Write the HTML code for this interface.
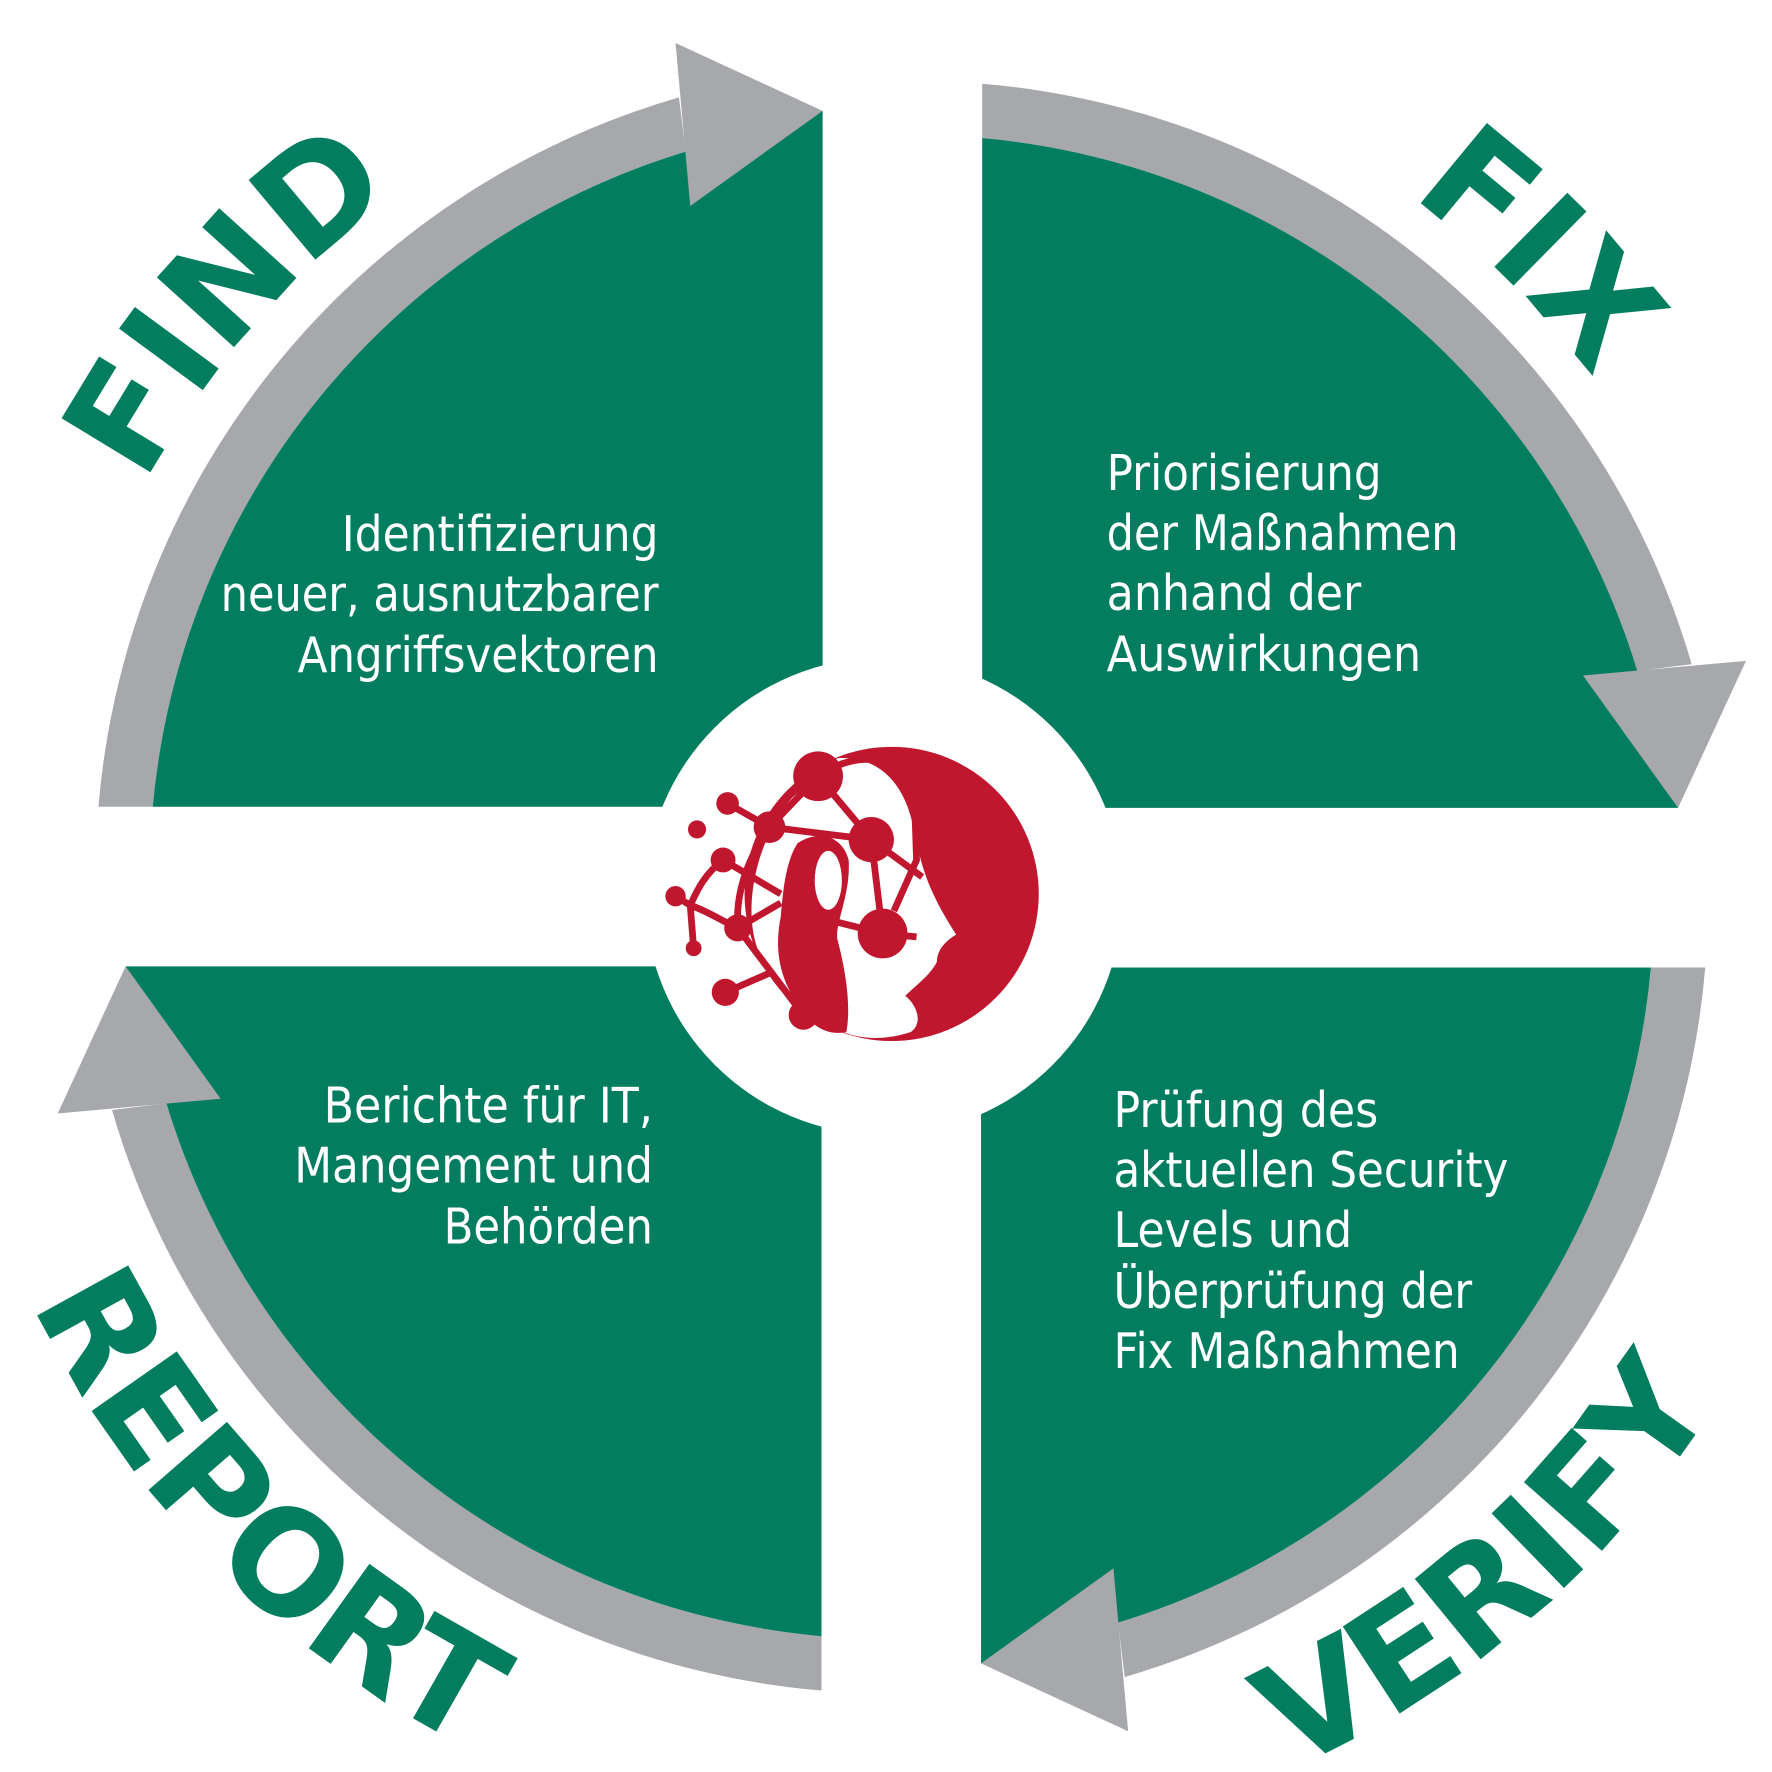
<!DOCTYPE html>
<html><head><meta charset="utf-8"><style>html,body{margin:0;padding:0;background:#fff}svg{display:block}</style></head>
<body>
<svg width="1772" height="1772" viewBox="0 0 1566 1566" xmlns="http://www.w3.org/2000/svg">
<defs>
<g id="q">
<path d="M87,713 A715,715 0 0 1 600,86 L606,134 A668,668 0 0 0 135,713 Z" fill="#a7a8ab"/>
<path d="M135,713 A668,668 0 0 1 606,134 L727,98 L727,713 Z" fill="#037d5f"/>
<path d="M597,38 L727,98 L610,182 Z" fill="#a7a8ab"/>
</g>
<path id="pFind" d="M80.3,1030.8 A758,758 0 0 1 941.6,40.0"/>
<path id="pFix" d="M600.8,51.8 A758,758 0 0 1 1529.2,980.2"/>
<path id="pRep" d="M-23.6,554.9 A852,852 0 0 0 1008.9,1609.3"/>
<path id="pVer" d="M515.4,1588.1 A852,852 0 0 0 1634.2,625.8"/>
</defs>
<use href="#q"/>
<use href="#q" transform="rotate(90 797 784)"/>
<use href="#q" transform="rotate(180 797 784)"/>
<use href="#q" transform="rotate(270 797 784)"/>
<circle cx="781" cy="792" r="211" fill="#fff"/>

<g font-family="'DejaVu Sans','Liberation Sans',sans-serif" font-weight="bold" font-size="126" fill="#037d5f" text-anchor="middle">
<text><textPath href="#pFind" startOffset="50%">FIND</textPath></text>
<text><textPath href="#pFix" startOffset="50%">FIX</textPath></text>
<text><textPath href="#pRep" startOffset="50%">REPORT</textPath></text>
<text><textPath href="#pVer" startOffset="50%">VERIFY</textPath></text>
</g>

<g font-family="'DejaVu Sans','Liberation Sans',sans-serif" font-size="43" fill="#fff">
<g text-anchor="end">
<text x="582" y="487" textLength="280" lengthAdjust="spacingAndGlyphs">Identifizierung</text>
<text x="582" y="540" textLength="387" lengthAdjust="spacingAndGlyphs">neuer, ausnutzbarer</text>
<text x="582" y="594" textLength="319" lengthAdjust="spacingAndGlyphs">Angriffsvektoren</text>
<text x="577" y="992" textLength="291" lengthAdjust="spacingAndGlyphs">Berichte für IT,</text>
<text x="577" y="1045" textLength="317" lengthAdjust="spacingAndGlyphs">Mangement und</text>
<text x="577" y="1099" textLength="185" lengthAdjust="spacingAndGlyphs">Behörden</text>
</g>
<text x="978" y="433" textLength="243" lengthAdjust="spacingAndGlyphs">Priorisierung</text>
<text x="978" y="486" textLength="311" lengthAdjust="spacingAndGlyphs">der Maßnahmen</text>
<text x="978" y="539" textLength="225" lengthAdjust="spacingAndGlyphs">anhand der</text>
<text x="978" y="593" textLength="278" lengthAdjust="spacingAndGlyphs">Auswirkungen</text>
<text x="984" y="996" textLength="234" lengthAdjust="spacingAndGlyphs">Prüfung des</text>
<text x="984" y="1049" textLength="349" lengthAdjust="spacingAndGlyphs">aktuellen Security</text>
<text x="984" y="1102" textLength="211" lengthAdjust="spacingAndGlyphs">Levels und</text>
<text x="984" y="1156" textLength="317" lengthAdjust="spacingAndGlyphs">Überprüfung der</text>
<text x="984" y="1209" textLength="306" lengthAdjust="spacingAndGlyphs">Fix Maßnahmen</text>
</g>

<g fill="#c0172f">
<circle cx="788" cy="790" r="130"/>
<path d="M740,670 C775,668 800,690 808,735 C815,770 822,790 845,826 C835,832 828,840 828,850 C822,862 808,872 800,880 C812,890 815,905 805,912 C780,920 760,918 745,912 C720,905 690,880 670,840 C655,800 670,740 700,705 Z" fill="#fff"/>
<path d="M705,745 C725,732 745,740 750,760 C752,790 738,815 740,830 C748,860 752,890 748,912 C735,915 722,910 712,898 C695,875 682,850 690,810 C692,785 695,760 705,745 Z"/>
<ellipse cx="732" cy="778" rx="12" ry="26" fill="#fff"/>
<g stroke="#c0172f" stroke-width="6" fill="none">
<path d="M723,686 L770,742 L780,825 L810,828"/>
<path d="M723,686 L680,731 L643,710"/>
<path d="M680,731 L770,742"/>
<path d="M723,686 C760,660 800,670 808,700 L810,760 L790,805"/>
<path d="M680,731 C660,760 650,790 652,820 L710,897"/>
<path d="M639,760 L690,790"/>
<path d="M639,760 C620,775 615,790 610,800 L597,792"/>
<path d="M610,800 L613,838"/>
<path d="M610,800 C625,805 640,815 652,820 L690,798"/>
<path d="M641,877 L680,860"/>
<path d="M780,825 L740,815"/>
<path d="M770,742 L815,775"/>
</g>
<circle cx="723" cy="686" r="22"/>
<circle cx="770" cy="742" r="20"/>
<circle cx="680" cy="731" r="14"/>
<circle cx="643" cy="710" r="10"/>
<circle cx="616" cy="733" r="8"/>
<circle cx="639" cy="760" r="11"/>
<circle cx="597" cy="792" r="9"/>
<circle cx="613" cy="838" r="7"/>
<circle cx="652" cy="820" r="12"/>
<circle cx="780" cy="825" r="22"/>
<circle cx="641" cy="877" r="12"/>
<circle cx="710" cy="897" r="13"/>
</g>
</svg>
</body></html>
